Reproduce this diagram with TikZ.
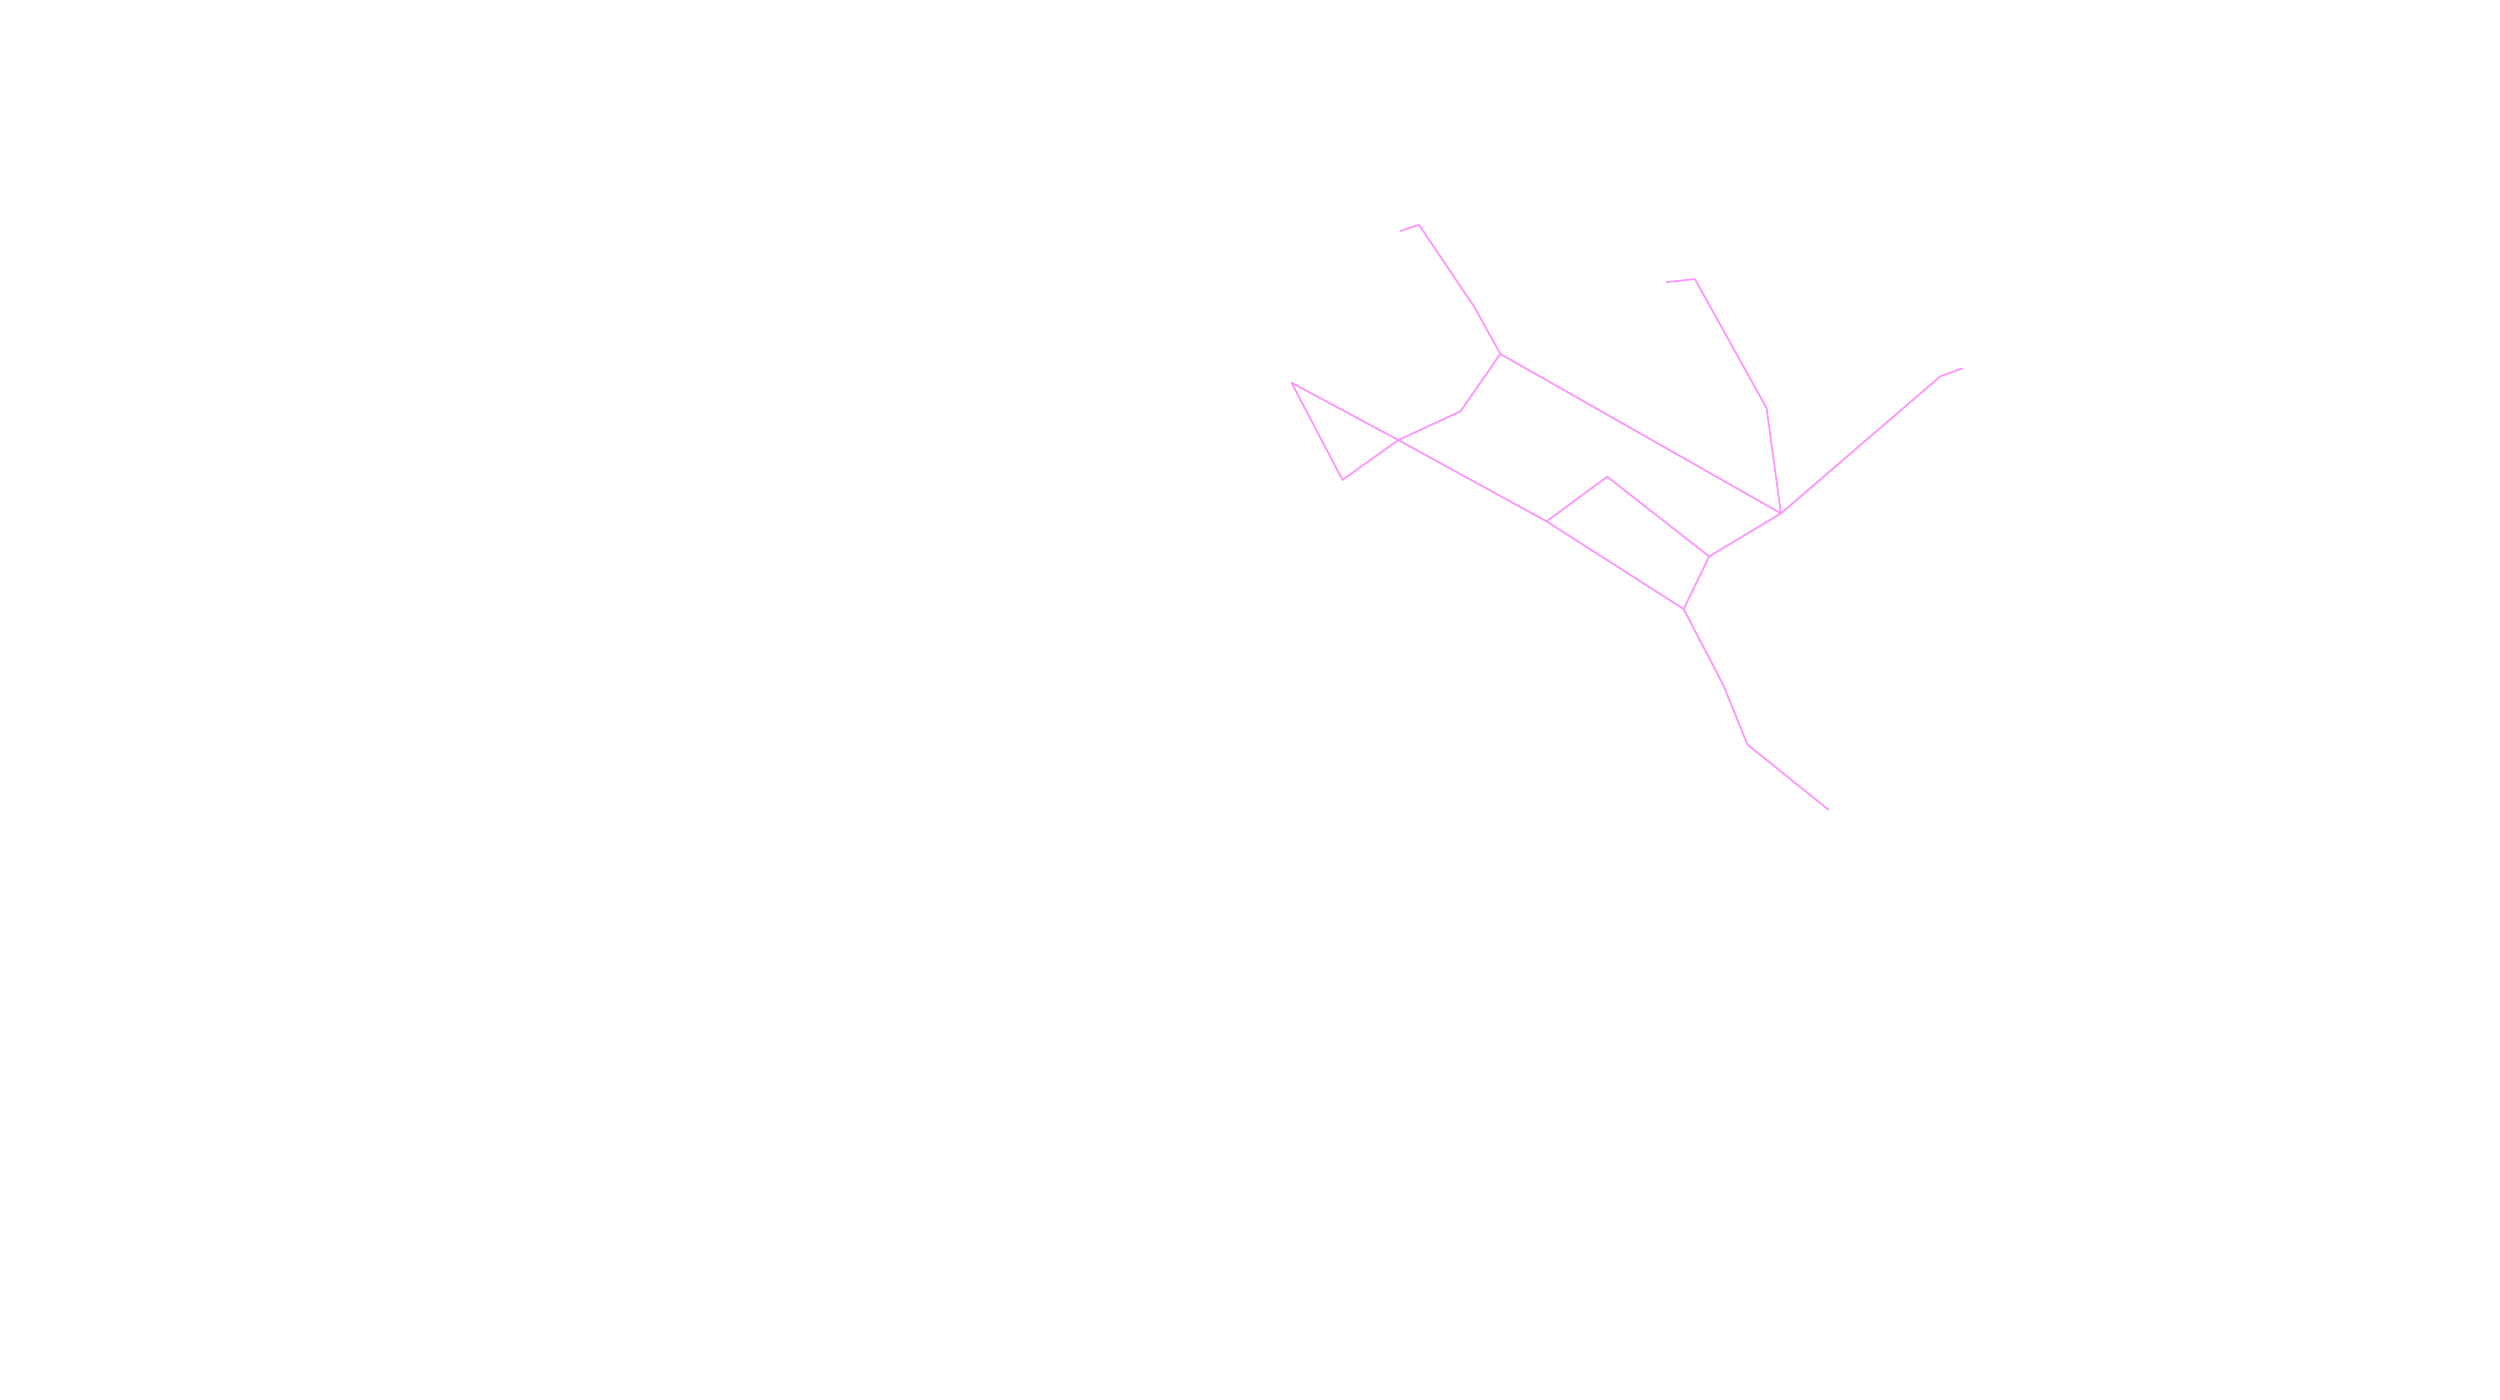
\documentclass[tikz,border=0pt]{standalone}
\usepackage{tikz}
\definecolor{trackpink}{RGB}{255,150,255}
\tikzset{track/.style={draw=trackpink, line width=0.5pt, line join=round}}
\begin{document}
\begin{tikzpicture}[x=0.015944cm, y=-0.015944cm]
    \useasboundingbox (0,0) rectangle (1568,878);
    % junctions and bends
    \coordinate (a) at (878,145);
    \coordinate (b) at (890,141);
    \coordinate (c) at (925,193);
    \coordinate (d) at (941,222);
    \coordinate (e) at (916,258);
    \coordinate (f) at (877,276);
    \coordinate (g) at (842,301);
    \coordinate (h) at (810,240);
    \coordinate (i) at (970,327);
    \coordinate (j) at (1056,382);
    \coordinate (k) at (1008,299);
    \coordinate (l) at (1072,349);
    \coordinate (m) at (1117,322);
    \coordinate (n) at (1108,256);
    \coordinate (o) at (1063,175);
    \coordinate (p) at (1045,177);
    \coordinate (q) at (1217,236);
    \coordinate (r) at (1231,231);
    \coordinate (s) at (1081,430);
    \coordinate (t) at (1096,467);
    \coordinate (u) at (1147,508);
    % lines
    \draw[track] (a) -- (b) -- (c) -- (d) -- (e) -- (f) -- (g) -- (h) -- (f) -- (i) -- (j);
    \draw[track] (i) -- (k) -- (l) -- (j);
    \draw[track] (d) -- (m) -- (l);
    \draw[track] (m) -- (n) -- (o) -- (p);
    \draw[track] (m) -- (q) -- (r);
    \draw[track] (j) -- (s) -- (t) -- (u);
\end{tikzpicture}
\end{document}
